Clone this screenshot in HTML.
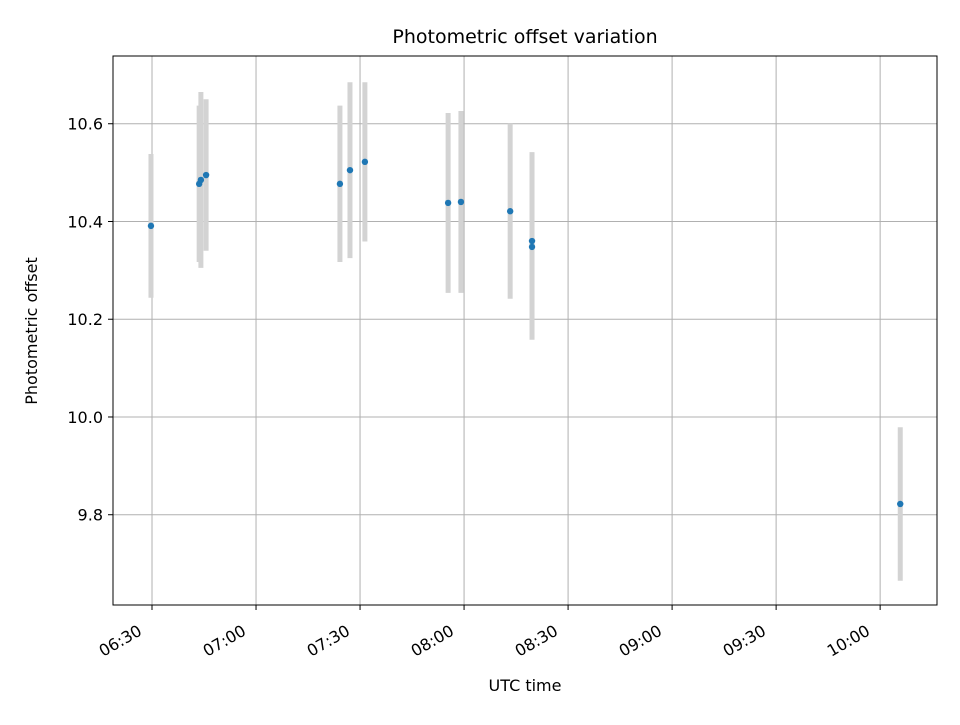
<!DOCTYPE html>
<html><head><meta charset="utf-8"><style>
body{margin:0;background:#fff;}
text{font-family:"DejaVu Sans","Liberation Sans",sans-serif;}
</style></head><body>
<svg id="chart" width="960" height="720" xmlns="http://www.w3.org/2000/svg">
<rect width="960" height="720" fill="#fff"/>
<g id="grid"></g><g id="bars"></g><g id="pts"></g><g id="axes"></g>
</svg>
<script>
// minutes since 06:00
const times = [29.7, 43.6, 44.1, 45.6, 84.2, 87.1, 91.4, 115.4, 119.1, 133.3, 139.6, 139.6, 245.8];
const offsets = [10.391, 10.477, 10.485, 10.495, 10.477, 10.505, 10.522, 10.438, 10.440, 10.421, 10.360, 10.348, 9.822];
const errors = [0.147, 0.16, 0.18, 0.155, 0.16, 0.18, 0.163, 0.184, 0.186, 0.179, 0.182, 0.19, 0.157];
const xTicks = [30, 60, 90, 120, 150, 180, 210, 240];
const xTickLabels = ["06:30","07:00","07:30","08:00","08:30","09:00","09:30","10:00"];
const yTicks = [9.8, 10.0, 10.2, 10.4, 10.6];
const yTickLabels = ["9.8","10.0","10.2","10.4","10.6"];

const L=113,R=937,T=56,B=605;
const xMin=18.75,xMax=256.4,yMin=9.6153,yMax=10.7386;
const sx=v=>L+(v-xMin)/(xMax-xMin)*(R-L);
const sy=v=>B-(v-yMin)/(yMax-yMin)*(B-T);
const NS="http://www.w3.org/2000/svg";
function mk(tag,attrs,parent){const e=document.createElementNS(NS,tag);for(const k in attrs)e.setAttribute(k,attrs[k]);document.getElementById(parent).appendChild(e);return e;}

xTicks.forEach((t,i)=>{
  const x=sx(t);
  const g=mk('line',{x1:x,x2:x,y1:T,y2:B,stroke:'#b0b0b0','stroke-width':1},'grid');
  
  
  const tk=mk('line',{x1:x,x2:x,y1:B,y2:B+5,stroke:'#000','stroke-width':1},'axes');
  
  
  const ax=x-9, ay=B+29;
  const tx=mk('text',{x:ax,y:ay,'font-size':16,'text-anchor':'end',transform:`rotate(-30 ${ax} ${ay})`},'axes');
  tx.textContent=xTickLabels[i];
  
  
});
yTicks.forEach((t,i)=>{
  const y=sy(t);
  const g=mk('line',{x1:L,x2:R,y1:y,y2:y,stroke:'#b0b0b0','stroke-width':1},'grid');
  
  
  const tk=mk('line',{x1:L-5,x2:L,y1:y,y2:y,stroke:'#000','stroke-width':1},'axes');
  
  
  const tx=mk('text',{x:L-10,y:y+6,'font-size':16,'text-anchor':'end'},'axes');
  tx.textContent=yTickLabels[i];
  
  
});
times.forEach((t,i)=>{
  const x=sx(t);
  const b=mk('line',{x1:x,x2:x,y1:sy(offsets[i]+errors[i]),y2:sy(offsets[i]-errors[i]),stroke:'#d3d3d3','stroke-width':5},'bars');
  
  
  const c=mk('circle',{cx:x,cy:sy(offsets[i]),r:3.2,fill:'#1f77b4'},'pts');
  
  
});
const fr=mk('rect',{x:L,y:T,width:R-L,height:B-T,fill:'none',stroke:'#000','stroke-width':1},'axes');


const ti=mk('text',{x:(L+R)/2,y:43,'font-size':19,'text-anchor':'middle'},'axes');
ti.textContent='Photometric offset variation';


const xl=mk('text',{x:(L+R)/2,y:691,'font-size':16,'text-anchor':'middle'},'axes');
xl.textContent='UTC time';


const yl=mk('text',{x:37,y:331,'font-size':16,'text-anchor':'middle',transform:`rotate(-90 37 331)`},'axes');
yl.textContent='Photometric offset';


</script>
</body></html>
